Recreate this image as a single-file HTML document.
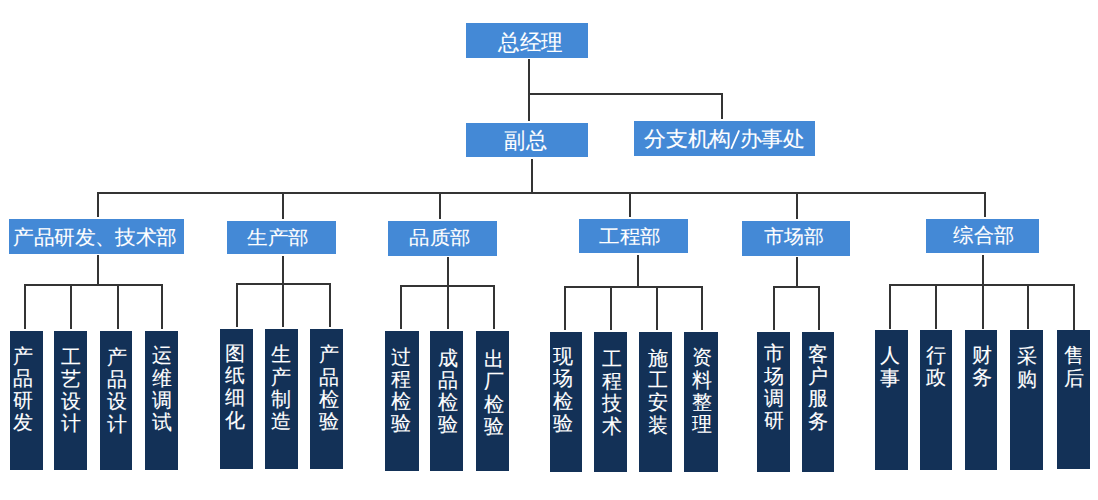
<!DOCTYPE html>
    <html><head><meta charset="utf-8"><style>
    html,body{margin:0;padding:0;background:#fff;}
    body{width:1098px;height:500px;position:relative;overflow:hidden;font-family:"Liberation Sans",sans-serif;}
    .b{position:absolute;-webkit-text-stroke:0.12px #fff;background:#4489d6;color:#fff;display:flex;align-items:center;justify-content:center;white-space:nowrap;}
    .n{position:absolute;background:#133157;}
    .t{position:absolute;-webkit-text-stroke:0.12px #fff;color:#fff;font-size:20px;line-height:22.25px;text-align:center;width:24px;}
    .l{position:absolute;background:#343434;}
    </style></head><body>
    
<div class="l" style="left:528px;top:59.3px;width:2px;height:61.4px"></div>
<div class="l" style="left:528px;top:93px;width:195px;height:2px"></div>
<div class="l" style="left:721px;top:93.5px;width:2px;height:25.9px"></div>
<div class="l" style="left:531px;top:158.5px;width:2px;height:35px"></div>
<div class="l" style="left:97px;top:192px;width:889px;height:2px"></div>
<div class="l" style="left:97px;top:192.5px;width:2px;height:24.7px"></div>
<div class="l" style="left:282px;top:192.5px;width:2px;height:26.2px"></div>
<div class="l" style="left:439px;top:192.5px;width:2px;height:26.9px"></div>
<div class="l" style="left:629px;top:192.5px;width:2px;height:24.7px"></div>
<div class="l" style="left:796px;top:192.5px;width:2px;height:26.7px"></div>
<div class="l" style="left:984px;top:192.5px;width:2px;height:24.7px"></div>
<div class="l" style="left:97px;top:255.3px;width:2px;height:30.7px"></div>
<div class="l" style="left:24px;top:284px;width:139px;height:2px"></div>
<div class="l" style="left:24px;top:285px;width:2px;height:43.8px"></div>
<div class="l" style="left:70px;top:285px;width:2px;height:43.8px"></div>
<div class="l" style="left:117px;top:285px;width:2px;height:43.8px"></div>
<div class="l" style="left:161px;top:285px;width:2px;height:43.8px"></div>
<div class="l" style="left:282px;top:255.7px;width:2px;height:29.3px"></div>
<div class="l" style="left:236px;top:283px;width:95px;height:2px"></div>
<div class="l" style="left:236px;top:284px;width:2px;height:43px"></div>
<div class="l" style="left:282px;top:284px;width:2px;height:43px"></div>
<div class="l" style="left:329px;top:284px;width:2px;height:43px"></div>
<div class="l" style="left:447px;top:257.1px;width:2px;height:29.5px"></div>
<div class="l" style="left:400px;top:285px;width:95px;height:2px"></div>
<div class="l" style="left:400px;top:285.6px;width:2px;height:43.8px"></div>
<div class="l" style="left:447px;top:285.6px;width:2px;height:43.8px"></div>
<div class="l" style="left:493px;top:285.6px;width:2px;height:43.8px"></div>
<div class="l" style="left:637px;top:254.7px;width:2px;height:32.8px"></div>
<div class="l" style="left:564px;top:286px;width:139px;height:2px"></div>
<div class="l" style="left:564px;top:286.5px;width:2px;height:43.7px"></div>
<div class="l" style="left:610px;top:286.5px;width:2px;height:43.7px"></div>
<div class="l" style="left:656px;top:286.5px;width:2px;height:43.7px"></div>
<div class="l" style="left:701px;top:286.5px;width:2px;height:43.7px"></div>
<div class="l" style="left:796px;top:257px;width:2px;height:30.6px"></div>
<div class="l" style="left:773px;top:286px;width:47px;height:2px"></div>
<div class="l" style="left:773px;top:286.6px;width:2px;height:43.6px"></div>
<div class="l" style="left:818px;top:286.6px;width:2px;height:43.6px"></div>
<div class="l" style="left:982px;top:254.6px;width:2px;height:30.9px"></div>
<div class="l" style="left:889px;top:284px;width:186px;height:2px"></div>
<div class="l" style="left:889px;top:284.5px;width:2px;height:44px"></div>
<div class="l" style="left:935px;top:284.5px;width:2px;height:44px"></div>
<div class="l" style="left:982px;top:284.5px;width:2px;height:44px"></div>
<div class="l" style="left:1027px;top:284.5px;width:2px;height:44px"></div>
<div class="l" style="left:1073px;top:284.5px;width:2px;height:46.5px"></div>
<div class="b" style="left:466px;top:23px;width:121.5px;height:35px;font-size:21px"><span style="display:inline-block;position:relative;left:3.5px;top:2px;transform:scale(1.0190,1.0400)">总经理</span></div>
<div class="b" style="left:466px;top:122.5px;width:121.5px;height:34.7px;font-size:21px"><span style="display:inline-block;position:relative;left:-0.7px;top:1.2px;transform:scale(1.0293,1.0700)">副总</span></div>
<div class="b" style="left:633.5px;top:121.2px;width:181.7px;height:34.6px;font-size:21px"><span style="display:inline-block;position:relative;left:-0.1px;top:0.35px;transform:scale(1.0405,0.9952)">分支机构<span style="display:inline-block;width:8px"></span>办事处</span></div>
<div class="b" style="left:9px;top:219px;width:175px;height:35px;font-size:20px"><span style="display:inline-block;position:relative;left:-1.5px;top:0.56px;transform:scale(1.0241,0.9925)">产品研发、技术部</span></div>
<div class="b" style="left:227.4px;top:220.5px;width:108.4px;height:33.9px;font-size:20px"><span style="display:inline-block;position:relative;left:-3.75px;top:-0.1px;transform:scale(1.0466,0.9700)">生产部</span></div>
<div class="b" style="left:388px;top:221.2px;width:109px;height:34.6px;font-size:20px"><span style="display:inline-block;position:relative;left:-2.45px;top:-1.45px;transform:scale(1.0362,0.9650)">品质部</span></div>
<div class="b" style="left:578.8px;top:219px;width:109.2px;height:34.4px;font-size:20px"><span style="display:inline-block;position:relative;left:-3.85px;top:0.3px;transform:scale(1.0220,0.9400)">工程部</span></div>
<div class="b" style="left:741.8px;top:221px;width:108.2px;height:34.7px;font-size:20px"><span style="display:inline-block;position:relative;left:-2.25px;top:-1.45px;transform:scale(1.0085,0.9650)">市场部</span></div>
<div class="b" style="left:926px;top:219px;width:113.4px;height:34.3px;font-size:20px"><span style="display:inline-block;position:relative;left:1px;top:-0.85px;transform:scale(1.0237,1.0150)">综合部</span></div>
<div class="n" style="left:9.6px;top:330.6px;width:33.1px;height:139.6px"></div>
<div class="t" style="left:11.4px;top:344.65px">产<br>品<br>研<br>发</div>
<div class="n" style="left:54.4px;top:330.6px;width:33px;height:139.6px"></div>
<div class="t" style="left:59.05px;top:345.5px">工<br>艺<br>设<br>计</div>
<div class="n" style="left:99.8px;top:330.6px;width:32.6px;height:139.6px"></div>
<div class="t" style="left:104.95px;top:345.85px">产<br>品<br>设<br>计</div>
<div class="n" style="left:144.6px;top:330.6px;width:33px;height:139.6px"></div>
<div class="t" style="left:150.3px;top:344.35px">运<br>维<br>调<br>试</div>
<div class="n" style="left:220px;top:328.8px;width:33.2px;height:140px"></div>
<div class="t" style="left:222.95px;top:341.85px">图<br>纸<br>细<br>化</div>
<div class="n" style="left:265.2px;top:328.8px;width:33.2px;height:140px"></div>
<div class="t" style="left:269.35px;top:343.35px">生<br>产<br>制<br>造</div>
<div class="n" style="left:310.4px;top:328.8px;width:32.8px;height:140px"></div>
<div class="t" style="left:316.85px;top:343.35px">产<br>品<br>检<br>验</div>
<div class="n" style="left:385.2px;top:331.2px;width:33.6px;height:139.6px"></div>
<div class="t" style="left:389.4px;top:345.65px">过<br>程<br>检<br>验</div>
<div class="n" style="left:430.4px;top:331.2px;width:32.8px;height:139.6px"></div>
<div class="t" style="left:436.35px;top:346.55px">成<br>品<br>检<br>验</div>
<div class="n" style="left:475.6px;top:331.2px;width:33.2px;height:139.6px"></div>
<div class="t" style="left:482.25px;top:348.2px">出<br>厂<br>检<br>验</div>
<div class="n" style="left:549.6px;top:332px;width:32.8px;height:139.8px"></div>
<div class="t" style="left:551.25px;top:345.2px">现<br>场<br>检<br>验</div>
<div class="n" style="left:594.4px;top:332px;width:32.8px;height:139.8px"></div>
<div class="t" style="left:599.95px;top:347.8px">工<br>程<br>技<br>术</div>
<div class="n" style="left:639.2px;top:332px;width:33.2px;height:139.8px"></div>
<div class="t" style="left:645.85px;top:346.75px">施<br>工<br>安<br>装</div>
<div class="n" style="left:684.4px;top:332px;width:33.2px;height:139.8px"></div>
<div class="t" style="left:690.25px;top:346.45px">资<br>料<br>整<br>理</div>
<div class="n" style="left:756.8px;top:332px;width:32.8px;height:140px"></div>
<div class="t" style="left:762.05px;top:342.45px">市<br>场<br>调<br>研</div>
<div class="n" style="left:801.6px;top:332px;width:32.8px;height:140px"></div>
<div class="t" style="left:805.85px;top:342.75px">客<br>户<br>服<br>务</div>
<div class="n" style="left:875px;top:330.3px;width:32.5px;height:139.8px"></div>
<div class="t" style="left:877.5px;top:344.25px">人<br>事</div>
<div class="n" style="left:919.8px;top:330.3px;width:32.6px;height:139.8px"></div>
<div class="t" style="left:924.35px;top:343.55px">行<br>政</div>
<div class="n" style="left:964.7px;top:330.3px;width:32.6px;height:139.8px"></div>
<div class="t" style="left:970.45px;top:344.15px">财<br>务</div>
<div class="n" style="left:1010px;top:330.3px;width:32.6px;height:139.8px"></div>
<div class="t" style="left:1014.55px;top:345.35px">采<br>购</div>
<div class="n" style="left:1056.7px;top:330.2px;width:33px;height:138.7px"></div>
<div class="t" style="left:1062.25px;top:344.45px">售<br>后</div>
<svg style="position:absolute;left:0;top:0" width="1098" height="500"><line x1="731.2" y1="148.9" x2="739.2" y2="130.4" stroke="#fff" stroke-width="1.75" stroke-linecap="butt"/></svg>
</body></html>
